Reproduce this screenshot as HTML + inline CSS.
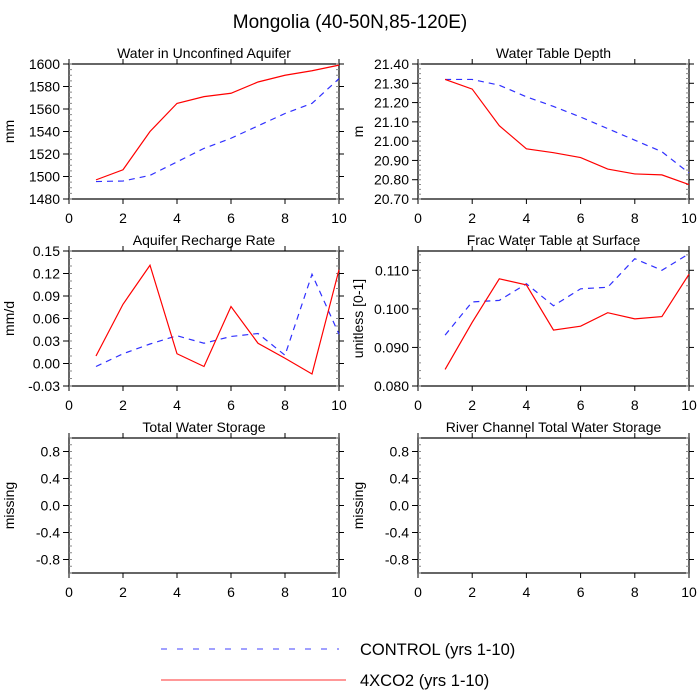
<!DOCTYPE html>
<html><head><meta charset="utf-8"><style>
html,body{margin:0;padding:0;background:#fff;}
svg{display:block;font-family:"Liberation Sans",sans-serif;}
</style></head><body>
<svg id="c" width="700" height="700" viewBox="0 0 700 700">
<text x="350" y="28" text-anchor="middle" font-size="19">Mongolia (40-50N,85-120E)</text>
<line x1="161" y1="649" x2="339" y2="649" stroke="#4040ff" stroke-dasharray="6,10"/>
<text x="360" y="655" font-size="16.5">CONTROL (yrs 1-10)</text>
<line x1="161" y1="680" x2="346" y2="680" stroke="#ff3030"/>
<text x="360" y="686" font-size="16.5">4XCO2 (yrs 1-10)</text>
</svg>
<script>
const years=[1,2,3,4,5,6,7,8,9,10];
const aquiferCO2=[1497,1506,1540,1565,1571,1574,1584,1590,1594,1599];
const aquiferCTL=[1495.5,1496,1501,1513,1525,1534,1545,1556,1565,1587];
const wtdCO2=[21.32,21.27,21.08,20.96,20.94,20.915,20.855,20.83,20.825,20.775];
const wtdCTL=[21.32,21.32,21.29,21.23,21.18,21.125,21.065,21.005,20.945,20.835];
const rechCO2=[0.010,0.079,0.131,0.013,-0.004,0.076,0.027,0.007,-0.014,0.125];
const rechCTL=[-0.004,0.013,0.026,0.037,0.027,0.036,0.040,0.011,0.119,0.039];
const fracCO2=[0.0843,0.0965,0.1078,0.1062,0.0945,0.0955,0.0990,0.0974,0.0980,0.1090];
const fracCTL=[0.0932,0.1018,0.1022,0.1065,0.1008,0.1052,0.1056,0.1130,0.1100,0.1143];
const xTicks=[0,2,4,6,8,10];
const aquiferTicks=[1480,1500,1520,1540,1560,1580,1600];
const wtdTicks=[20.70,20.80,20.90,21.00,21.10,21.20,21.30,21.40];
const rechTicks=[-0.03,0,0.03,0.06,0.09,0.12,0.15];
const fracTicks=[0.080,0.090,0.100,0.110];
const missTicks=[-0.8,-0.4,0,0.4,0.8];

const svg=document.getElementById('c');
const NS='http://www.w3.org/2000/svg';
function mk(tag,attrs){const e=document.createElementNS(NS,tag);for(const k in attrs)e.setAttribute(k,attrs[k]);svg.appendChild(e);return e;}

function panel(name,title,ytitle,L,T,R,B,ymin,ymax,ticks,dec,minorN,ctl,co2){
  const sx=v=>L+(v-0)/(10-0)*(R-L);
  const sy=v=>B-(v-ymin)/(ymax-ymin)*(B-T);
  const fr=mk('rect',{x:L,y:T,width:R-L,height:B-T,fill:'none',stroke:'#000','stroke-width':1.2});
  
  
  const t=mk('text',{x:(L+R)/2,y:T-6,'text-anchor':'middle','font-size':14});
  t.textContent=title;
  
  
  const yt=mk('text',{x:0,y:0,'text-anchor':'middle','font-size':14,transform:`translate(${L-55},${(T+B)/2}) rotate(-90)`});
  yt.textContent=ytitle;
  
  
  xTicks.forEach(v=>{
    mk('line',{x1:sx(v),y1:B,x2:sx(v),y2:B+5,stroke:'#000'});
    mk('line',{x1:sx(v),y1:T,x2:sx(v),y2:T-5,stroke:'#000'});
    const l=mk('text',{x:sx(v),y:B+24,'text-anchor':'middle','font-size':14});
    l.textContent=v;
    
    
  });
  const step=ticks[1]-ticks[0];
  for(let i=0;i<ticks.length;i++){
    const v=ticks[i];
    mk('line',{x1:L-6,y1:sy(v),x2:L,y2:sy(v),stroke:'#000'});
    mk('line',{x1:R,y1:sy(v),x2:R+5,y2:sy(v),stroke:'#000'});
    const l=mk('text',{x:L-9,y:sy(v)+5,'text-anchor':'end','font-size':14});
    l.textContent=v.toFixed(dec);
    
    
  }
  for(let m=ticks[0]-step;m<=ymax+1e-9;m+=step/minorN){
    if(m<ymin-1e-9)continue;
    mk('line',{x1:L,y1:sy(m),x2:L+3,y2:sy(m),stroke:'#888'});
    mk('line',{x1:R-3,y1:sy(m),x2:R,y2:sy(m),stroke:'#888'});
  }
  if(ctl){
    const p=mk('polyline',{points:years.map((x,i)=>sx(x)+','+sy(ctl[i])).join(' '),fill:'none',stroke:'#3030ff','stroke-width':1.2,'stroke-dasharray':'6,5'});
    
    
  }
  if(co2){
    const p=mk('polyline',{points:years.map((x,i)=>sx(x)+','+sy(co2[i])).join(' '),fill:'none',stroke:'#ff0000','stroke-width':1.2});
    
    
  }
}
panel('aquifer','Water in Unconfined Aquifer','mm',69,64,339,199,1480,1600,aquiferTicks,0,4,aquiferCTL,aquiferCO2);
panel('wtd','Water Table Depth','m',418,64,689,199,20.70,21.40,wtdTicks,2,4,wtdCTL,wtdCO2);
panel('recharge','Aquifer Recharge Rate','mm/d',69,251,339,386,-0.03,0.15,rechTicks,2,3,rechCTL,rechCO2);
panel('frac','Frac Water Table at Surface','unitless [0-1]',418,251,689,386,0.080,0.115,fracTicks,3,5,fracCTL,fracCO2);
panel('tws','Total Water Storage','missing',69,438,339,573,-1,1,missTicks,1,4,null,null);
panel('river','River Channel Total Water Storage','missing',418,438,689,573,-1,1,missTicks,1,4,null,null);
</script>
</body></html>
